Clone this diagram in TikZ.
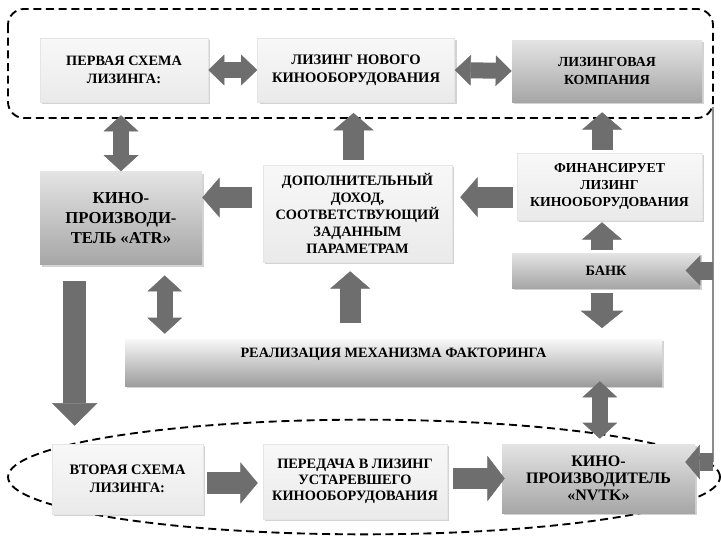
\documentclass[tikz,border=0pt]{standalone}
\usepackage{fontspec}
\setmainfont{Liberation Serif}
\usetikzlibrary{arrows.meta,shadows}
\definecolor{arrowgray}{HTML}{6E6E6E}
\definecolor{lighttop}{HTML}{F8F8F8}
\definecolor{lightbot}{HTML}{EAEAEA}
\definecolor{darktop}{HTML}{E4E4E4}
\definecolor{darkbot}{HTML}{A6A6A6}
\tikzset{
	box/.style={inner sep=2pt, align=center, font=\bfseries\fontsize{10.7}{13.2}\selectfont,
		drop shadow={opacity=0.35, shadow xshift=1.5pt, shadow yshift=-1.5pt}},
	lightbox/.style={box, top color=lighttop, bottom color=lightbot, draw=black!10},
	darkbox/.style={box, top color=darktop, bottom color=darkbot},
	onearrow/.style n args={3}{draw=arrowgray, line width=#1,
		-{Triangle[width=#2, length=#3, line width=0.4pt]}},
	twoarrow/.style n args={3}{draw=arrowgray, line width=#1,
		{Triangle[width=#2, length=#3, line width=0.4pt]}-{Triangle[width=#2, length=#3, line width=0.4pt]}},
	frame/.style={dash pattern=on 6pt off 3.5pt, line width=1.4pt},
}
\begin{document}
\begin{tikzpicture}[x=0.75pt, y=-0.75pt]
	\useasboundingbox (0,0) rectangle (721,536);
	% upper scheme
	\draw[frame, rounded corners=12pt] (8,9) rectangle (713,118);
	\node[lightbox, minimum width=126pt, minimum height=48pt] (first) at (124,70) {ПЕРВАЯ СХЕМА\\ЛИЗИНГА:};
	\node[lightbox, font=\bfseries\fontsize{10.9}{13.2}\selectfont, minimum width=147.75pt, minimum height=48pt] (newequip) at (356,70) {ЛИЗИНГ НОВОГО\\КИНООБОРУДОВАНИЯ};
	\node[darkbox, font=\bfseries\fontsize{10.4}{14}\selectfont, minimum width=142.5pt, minimum height=46.5pt] (company) at (607,71) {ЛИЗИНГОВАЯ\\КОМПАНИЯ};
	% middle
	\node[darkbox, font=\bfseries\fontsize{12.5}{15}\selectfont, minimum width=121.5pt, minimum height=69.75pt] (atr) at (121,218) {КИНО-\\ПРОИЗВОДИ-\\ТЕЛЬ «ATR»};
	\node[lightbox, font=\bfseries\fontsize{10.75}{12.75}\selectfont, minimum width=141.75pt, minimum height=72.75pt] (extra) at (357.5,213.5) {ДОПОЛНИТЕЛЬНЫЙ\\ДОХОД,\\СООТВЕТСТВУЮЩИЙ\\ЗАДАННЫМ\\ПАРАМЕТРАМ};
	\node[lightbox, font=\bfseries\fontsize{10.3}{12.75}\selectfont, minimum width=138.75pt, minimum height=50.25pt] (finance) at (609.5,186.5) {ФИНАНСИРУЕТ\\ЛИЗИНГ\\КИНООБОРУДОВАНИЯ};
	\node[darkbox, minimum width=141pt, minimum height=26.25pt] (bank) at (606,270.5) {БАНК};
	\node[box, top color=lighttop, bottom color=darkbot!110, minimum width=402.75pt, minimum height=35.25pt, text depth=14pt] (factor) at (393.5,362.5) {РЕАЛИЗАЦИЯ МЕХАНИЗМА ФАКТОРИНГА};
	% lower scheme
	\draw[frame] (364,477) ellipse [x radius=267pt, y radius=43pt];
	\node[lightbox, font=\bfseries\fontsize{10.85}{13.2}\selectfont, minimum width=113.25pt, minimum height=52.5pt] (second) at (127.5,479) {ВТОРАЯ СХЕМА\\ЛИЗИНГА:};
	\node[lightbox, font=\bfseries\fontsize{10.75}{12}\selectfont, minimum width=138pt, minimum height=56.25pt] (obsolete) at (355,481.5) {ПЕРЕДАЧА В ЛИЗИНГ\\УСТАРЕВШЕГО\\КИНООБОРУДОВАНИЯ};
	\node[darkbox, font=\bfseries\fontsize{12}{12.75}\selectfont, minimum width=144.75pt, minimum height=51.75pt] (nvtk) at (598.5,478.5) {КИНО-\\ПРОИЗВОДИТЕЛЬ\\«NVTK»};
	% side line
	\coordinate (rtop) at (713,107);
	\coordinate (rbot) at (713,462);
	\draw[black!45, line width=0.8pt] (rtop) -- (rbot);
	% arrows
	\draw[twoarrow={12pt}{23pt}{12pt}] (first.east) -- (newequip.west);
	\draw[twoarrow={12pt}{23pt}{12pt}] (newequip.east) -- (company.west);
	\draw[twoarrow={12pt}{26pt}{12pt}, shorten <=9.75pt] (atr.north |- first.south) -- (atr.north);
	\draw[onearrow={16pt}{30pt}{13pt}, shorten <=8pt] ([yshift=12pt]extra.west) -- ([yshift=12pt]extra.west -| atr.east);
	\draw[onearrow={16pt}{30pt}{13pt}, shorten <=3.75pt, shorten >=8pt] ([xshift=-3pt]extra.north) -- ([xshift=-3pt]extra.north |- newequip.south);
	\draw[onearrow={16pt}{30pt}{13pt}, shorten <=3pt, shorten >=6pt] ([yshift=-8pt]finance.west) -- ([yshift=-8pt]finance.west -| extra.east);
	\draw[onearrow={16pt}{30pt}{13pt}, shorten <=2pt, shorten >=7.5pt] ([xshift=-5.5pt]finance.north) -- ([xshift=-5.5pt]finance.north |- company.south);
	\draw[onearrow={16pt}{30pt}{13pt}, shorten <=2pt, shorten >=1.5pt] ([xshift=-3pt]bank.north) -- ([xshift=-3pt]bank.north |- finance.south);
	\draw[onearrow={13.5pt}{22.5pt}{11pt}, shorten >=-11pt] (rtop |- bank.east) -- (bank.east);
	\draw[onearrow={16pt}{32pt}{13pt}, shorten <=3.75pt, shorten >=8pt] ([xshift=-3pt]bank.south) -- ([xshift=-3pt]bank.south |- factor.north);
	\draw[twoarrow={12pt}{26pt}{12pt}, shorten <=8pt, shorten >=3.75pt] ([xshift=30pt]factor.north west |- atr.south) -- ([xshift=30pt]factor.north west);
	\draw[onearrow={16pt}{30pt}{13pt}, shorten <=12pt, shorten >=6.75pt] ([xshift=-5.5pt]extra.south |- factor.north) -- ([xshift=-5.5pt]extra.south);
	\draw[onearrow={17pt}{34pt}{17pt}, shorten <=12pt, shorten >=13.5pt] ([xshift=26.25pt]atr.south west) -- ([xshift=26.25pt]atr.south west |- second.north);
	\draw[twoarrow={12pt}{26pt}{12pt}, shorten <=-3.75pt, shorten >=3.75pt] ([xshift=1pt]nvtk.north |- factor.south) -- ([xshift=1pt]nvtk.north);
	\draw[onearrow={16pt}{31pt}{13pt}, shorten <=3pt, shorten >=3.75pt] ([yshift=-3pt]second.east) -- ([yshift=-3pt]second.east -| obsolete.west);
	\draw[onearrow={16pt}{34pt}{13pt}, shorten <=4.5pt, shorten >=-2.25pt] (nvtk.west -| obsolete.east) -- (nvtk.west);
	\draw[onearrow={13.5pt}{26pt}{11pt}, shorten >=-7.5pt] (rbot) -- (rbot -| nvtk.east);
\end{tikzpicture}
\end{document}
